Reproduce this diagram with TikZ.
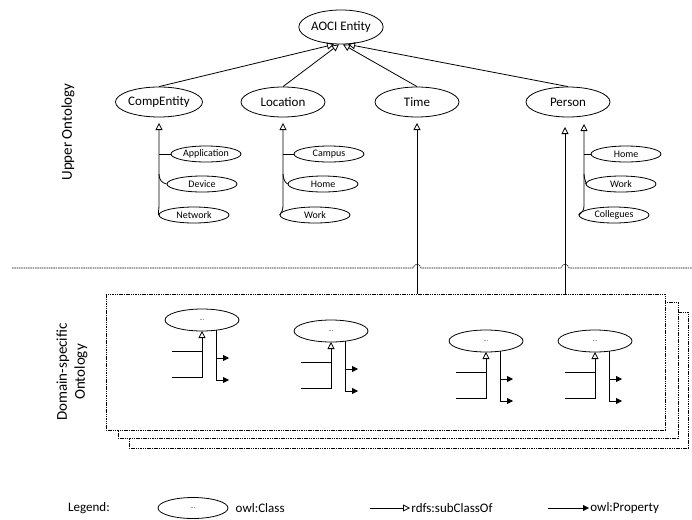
\documentclass[tikz,border=0pt]{standalone}
\usepackage{fontspec}
\setmainfont{Carlito}
\usetikzlibrary{arrows.meta,shapes.geometric}
\begin{document}
\begin{tikzpicture}[x=1pt,y=-1pt,
  line width=0.8pt,
  bigell/.style={ellipse,draw,fill=white,minimum width=84pt,minimum height=30pt,inner sep=0pt,font=\fontsize{13}{15}\selectfont},
  smallell/.style={ellipse,draw,fill=white,minimum width=70pt,minimum height=16pt,inner sep=0pt,font=\fontsize{10}{12}\selectfont},
  domell/.style={ellipse,draw,fill=white,minimum width=74pt,minimum height=22pt,inner sep=0pt,font=\fontsize{6}{7}\selectfont},
  sub/.style={-{Triangle[open,length=7pt,width=7pt]}},
  prop/.style={-{Triangle[length=6pt,width=6pt]}},
  dbox/.style={draw,fill=white,line width=0.6pt,dash pattern=on 1.5pt off 0.8pt},
  lbl/.style={font=\fontsize{13}{15}\selectfont},
  side/.style={rotate=90,align=center,font=\fontsize{15}{18}\selectfont}
]
\useasboundingbox (0,0) rectangle (692,519);

% side labels
\node[side] (upper) at (68,132) {Upper Ontology};
\node[side] (domain) at (72,372) {Domain-specific\\Ontology};

% separator with hops
\coordinate (sepL) at (12,268);
\coordinate (sepR) at (692,268);
\draw[line width=0.6pt,dash pattern=on 1.5pt off 0.8pt] (sepL) -- (413,268) .. controls (414,263) and (420,263) .. (421,268)
  -- (561,268) .. controls (562,263) and (568,263) .. (569,268) -- (sepR);

% domain boxes
\draw[dbox] (129,312) rectangle (688,448);
\draw[dbox] (118,302) rectangle (678,438);
\draw[dbox] (106,294) rectangle (665,430);

% upper ontology
\node[bigell,minimum width=80pt,minimum height=34pt] (aoci) at (341,27) {AOCI Entity};
\node[bigell] (comp) at (159,102) {CompEntity};
\node[bigell] (loc) at (283,102) {Location};
\node[bigell] (time) at (417,102) {Time};
\node[bigell] (pers) at (568,102) {Person};

\draw[sub] (comp.north) -- ([xshift=-7pt]aoci.south);
\draw[sub] (loc.north) -- ([xshift=-2pt]aoci.south);
\draw[sub] (time.north) -- ([xshift=2pt]aoci.south);
\draw[sub] (pers.north) -- ([xshift=7pt]aoci.south);

% CompEntity subclasses
\node[smallell] (app) at (206,154) {Application};
\node[smallell] (dev) at (202,184) {Device};
\node[smallell] (net) at (194,215) {Network};
\coordinate (compT) at (159,123);
\draw[sub] (net.west) .. controls (158,212) and (159,210) .. (159,205) -- (compT);
\draw (app.west) -- (159,154);
\draw (dev.west) .. controls (162,183) and (159,180) .. (159,174);

% Location subclasses
\node[smallell] (campus) at (329,154) {Campus};
\node[smallell] (lhome) at (323,184) {Home};
\node[smallell] (lwork) at (315,215) {Work};
\coordinate (locT) at (283,123);
\draw[sub] (lwork.west) .. controls (282,212) and (283,210) .. (283,205) -- (locT);
\draw (campus.west) -- (283,154);
\draw (lhome.west) .. controls (286,183) and (283,180) .. (283,174);

% Person subclasses
\node[smallell] (phome) at (626,154) {Home};
\node[smallell] (pwork) at (621,184) {Work};
\node[smallell] (coll) at (614,215) {Collegues};
\coordinate (persT) at (584,124);
\draw[sub] (coll.west) .. controls (583,212) and (584,210) .. (584,205) -- (persT);
\draw (phome.west) -- (584,154);
\draw (pwork.west) .. controls (587,183) and (584,180) .. (584,174);

% links to domain ontology
\coordinate (timeB) at (417,294);
\coordinate (timeT) at (417,123);
\coordinate (persB) at (565,294);
\coordinate (persT2) at (565,127);
\draw[sub] (timeB) -- (timeT);
\draw[sub] (persB) -- (persT2);

% domain groups
\foreach \cx/\cy/\n in {202/320/a, 331/331/b, 486/341/c, 595/341/d}{
  \node[domell] (d\n) at (\cx,\cy) {...};
  \coordinate (s\n t) at (\cx,\cy+11);
  \coordinate (s\n j1) at (\cx,\cy+31);
  \coordinate (s\n j2) at (\cx,\cy+57);
  \coordinate (s\n h1) at (\cx-30,\cy+31);
  \coordinate (s\n h2) at (\cx-30,\cy+57);
  \draw (s\n h1) -- (s\n j1);
  \draw[sub] (s\n h2) -- (s\n j2) -- (s\n t);
  \coordinate (p\n t) at (\cx+14,\cy+10);
  \coordinate (p\n s1) at (\cx+14,\cy+38);
  \coordinate (p\n e1) at (\cx+27,\cy+38);
  \coordinate (p\n e2) at (\cx+27,\cy+60);
  \draw[prop] (p\n t) |- (p\n e2);
  \draw[prop] (p\n s1) -- (p\n e1);
}

% legend
\node[lbl] (leg) at (89,508) {Legend:};
\node[domell,minimum width=70pt,minimum height=21pt] (legell) at (193,508) {...};
\node[lbl,anchor=west] (legcls) at (232,508) {owl:Class};
\coordinate (lsubA) at (370,508);
\coordinate (lsubB) at (410,508);
\draw[sub] (lsubA) -- (lsubB);
\node[lbl,anchor=west,inner sep=1pt] (legsub) at (lsubB) {rdfs:subClassOf};
\coordinate (lpropA) at (548,508);
\coordinate (lpropB) at (589,508);
\draw[prop] (lpropA) -- (lpropB);
\node[lbl,anchor=west,inner sep=1pt] (legprop) at (lpropB) {owl:Property};
\end{tikzpicture}
\end{document}
